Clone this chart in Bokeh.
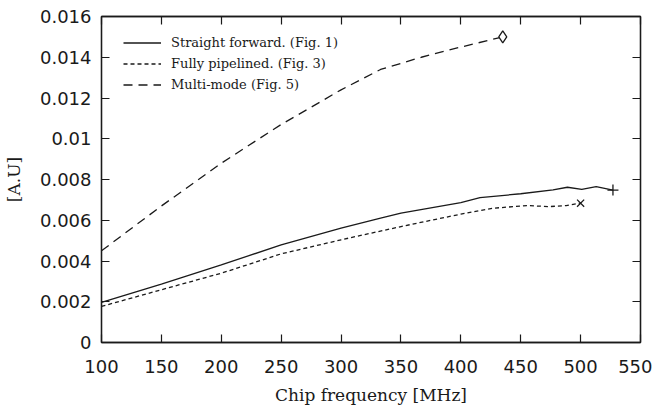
from bokeh.plotting import figure
from bokeh.models import LinearAxis, FixedTicker, CustomJSTickFormatter, Range1d, Legend, LegendItem
from bokeh.embed import file_html
from bokeh.resources import INLINE

# ---- data ----
sf_freq = [100, 150, 200, 250, 300, 333, 350, 400, 416, 450, 477, 489, 501, 513, 527]
sf_val = [0.00197, 0.00287, 0.00381, 0.00479, 0.00561, 0.0061, 0.00635, 0.00687,
          0.00711, 0.0073, 0.00749, 0.00762, 0.00752, 0.00765, 0.00748]

fp_freq = [100, 150, 200, 250, 300, 350, 400, 427, 455, 474, 488, 500]
fp_val = [0.00177, 0.00259, 0.0034, 0.00435, 0.00504, 0.00569, 0.0063, 0.00659,
          0.00672, 0.00667, 0.00672, 0.00684]

mm_freq = [100, 150, 200, 250, 300, 333, 367, 400, 435]
mm_val = [0.0045, 0.0067, 0.0088, 0.0107, 0.0124, 0.0134, 0.0140, 0.0145, 0.0150]

series_names = ["Straight forward. (Fig. 1)", "Fully pipelined. (Fig. 3)", "Multi-mode (Fig. 5)"]
x_ticks = [100, 150, 200, 250, 300, 350, 400, 450, 500, 550]
y_ticks = [0, 0.002, 0.004, 0.006, 0.008, 0.01, 0.012, 0.014, 0.016]
x_title = "Chip frequency [MHz]"
y_title = "[A.U]"

INK = "#1a1a1a"
SANS = "DejaVu Sans"
SERIF = "DejaVu Serif"

p = figure(width=652, height=410, output_backend="svg", toolbar_location=None,
           x_range=Range1d(100, 550), y_range=Range1d(0, 0.016),
           min_border_left=97, min_border_right=12, min_border_top=16, min_border_bottom=68,
           x_axis_location=None, y_axis_location=None)
p.grid.visible = False
p.outline_line_color = INK
p.outline_line_width = 1.3
p.background_fill_color = "white"
p.border_fill_color = "white"

fmt = CustomJSTickFormatter(code="var s = tick.toFixed(3); s = s.replace(/0+$/, ''); s = s.replace(/\\.$/, ''); return s;")


def style_axis(ax, show):
    ax.major_tick_in = 8
    ax.major_tick_out = 0
    ax.minor_tick_in = 0
    ax.minor_tick_out = 0
    ax.axis_line_color = INK
    ax.axis_line_width = 1.3
    ax.major_tick_line_color = INK
    ax.major_tick_line_width = 1.2
    if show:
        ax.major_label_text_font = SANS
        ax.major_label_text_font_size = "18px"
        ax.major_label_text_color = INK
    else:
        ax.major_label_text_font_size = "1px"
        ax.major_label_text_alpha = 0
        ax.major_label_standoff = 0


xb = LinearAxis(ticker=FixedTicker(ticks=x_ticks), axis_label=x_title)
style_axis(xb, True)
xb.major_label_standoff = 17
xb.axis_label_standoff = 9
xb.axis_label_text_font = SERIF
xb.axis_label_text_font_size = "17px"
xb.axis_label_text_font_style = "normal"
xb.axis_label_text_color = INK
p.add_layout(xb, "below")

yl = LinearAxis(ticker=FixedTicker(ticks=y_ticks), formatter=fmt, axis_label=y_title)
style_axis(yl, True)
yl.major_label_standoff = 10
yl.axis_label_standoff = 13
yl.axis_label_text_font = SERIF
yl.axis_label_text_font_size = "17px"
yl.axis_label_text_font_style = "normal"
yl.axis_label_text_color = INK
p.add_layout(yl, "left")

xt = LinearAxis(ticker=FixedTicker(ticks=x_ticks), formatter=CustomJSTickFormatter(code="return '';"))
style_axis(xt, False)
p.add_layout(xt, "above")

yr = LinearAxis(ticker=FixedTicker(ticks=y_ticks), formatter=CustomJSTickFormatter(code="return '';"))
style_axis(yr, False)
p.add_layout(yr, "right")

r1 = p.line(sf_freq, sf_val, line_color=INK, line_width=1.3)
r2 = p.line(fp_freq, fp_val, line_color=INK, line_width=1.3, line_dash="4 3")
r3 = p.line(mm_freq, mm_val, line_color=INK, line_width=1.3, line_dash="9 6")

p.scatter([sf_freq[-1]], [sf_val[-1]], marker="cross", size=11, line_color=INK, line_width=1.3)
p.scatter([fp_freq[-1]], [fp_val[-1]], marker="x", size=10, line_color=INK, line_width=1.3)
p.scatter([mm_freq[-1]], [mm_val[-1]], marker="diamond", size=12, line_color=INK,
          fill_color="white", line_width=1.3)

legend = Legend(items=[LegendItem(label=series_names[0], renderers=[r1]),
                       LegendItem(label=series_names[1], renderers=[r2]),
                       LegendItem(label=series_names[2], renderers=[r3])],
                location=(22, 247))
legend.background_fill_alpha = 0
legend.border_line_alpha = 0
legend.padding = 0
legend.margin = 0
legend.spacing = 0
legend.glyph_width = 38
legend.glyph_height = 21
legend.label_height = 21
legend.label_standoff = 10
legend.label_text_font = SERIF
legend.label_text_font_size = "13px"
legend.label_text_color = INK
p.add_layout(legend, "center")

open("out.html", "w").write(file_html(p, INLINE))
